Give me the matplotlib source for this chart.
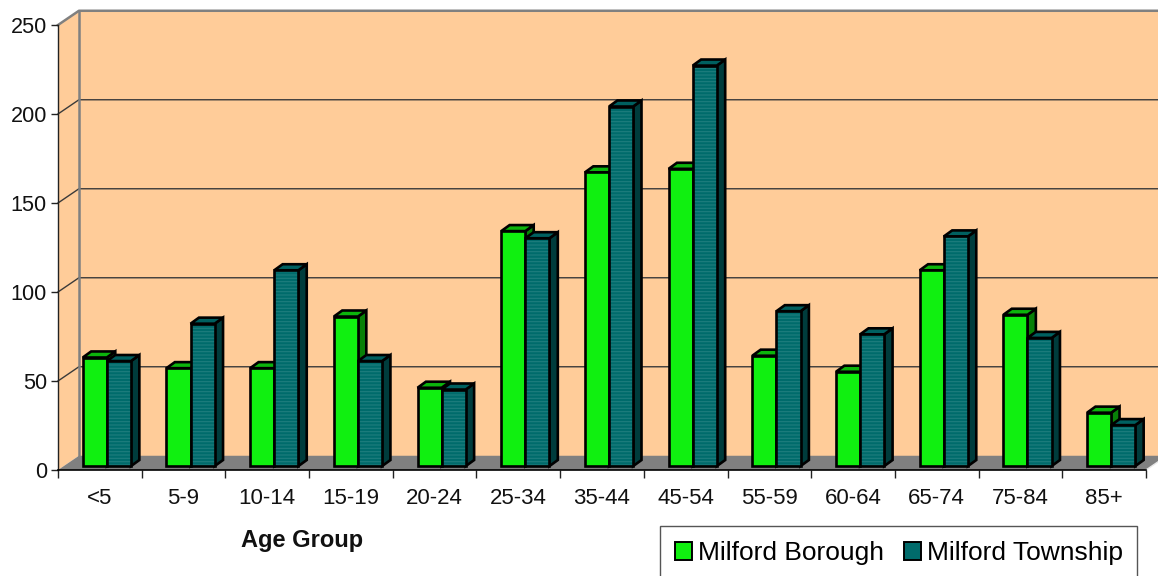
import matplotlib
matplotlib.use('Agg')
import matplotlib.pyplot as plt
from matplotlib.patches import Polygon, Patch
import numpy as np

plt.rcParams['font.family'] = ['Liberation Sans', 'DejaVu Sans']
plt.rcParams['hatch.linewidth'] = 0.8

ageGroups = ['<5', '5-9', '10-14', '15-19', '20-24', '25-34', '35-44', '45-54',
             '55-59', '60-64', '65-74', '75-84', '85+']
borough = [61, 55, 55, 84, 44, 132, 165, 167, 62, 53, 110, 85, 30]
township = [59, 80, 110, 59, 43, 128, 202, 225, 87, 74, 129, 72, 23]
yticks = [0, 50, 100, 150, 200, 250]

# depth of the fake 3d box, in data units
wallDx = 0.25
wallDy = 8.0
barDx = 0.1
barDy = 3.4
shiftX = 0.084
shiftY = 2.2
barWidth = 0.288
edgeWidth = 1.9

peach = '#FFCC99'
wallGrey = '#808080'
green = ('#10F010', '#0CB40C', '#088008')
teal = ('#006B6B', '#006060', '#003C3C')

def drawBar(ax, left, value, colors, hatched, z):
    base = shiftY
    top = base + value
    right = left + barWidth
    # side and top faces
    ax.add_patch(Polygon([(right, base), (right + barDx, base + barDy),
                          (right + barDx, top + barDy), (right, top)],
                         facecolor=colors[2], edgecolor='black', lw=edgeWidth, zorder=z, clip_on=False))
    ax.add_patch(Polygon([(left, top), (left + barDx, top + barDy),
                          (right + barDx, top + barDy), (right, top)],
                         facecolor=colors[1], edgecolor='black', lw=edgeWidth, zorder=z, clip_on=False))
    # front face
    if hatched:
        ax.bar(left, value, barWidth, bottom=base, align='edge', color=colors[0],
               edgecolor='#1F7D7D', hatch='-----', lw=0, zorder=z + 0.1, clip_on=False)
        ax.bar(left, value, barWidth, bottom=base, align='edge', fill=False,
               edgecolor='black', lw=edgeWidth, zorder=z + 0.2, clip_on=False)
    else:
        ax.bar(left, value, barWidth, bottom=base, align='edge', color=colors[0],
               edgecolor='black', lw=edgeWidth, zorder=z + 0.1, clip_on=False)

fig = plt.figure(figsize=(11.58, 5.76), dpi=100)
ax = fig.add_axes([58 / 1158, (576 - 470) / 576, 1088 / 1158, 445 / 576])
ax.set_xlim(0, 13)
ax.set_ylim(0, 250)

# walls and floor
ax.add_patch(Polygon([(wallDx, wallDy), (wallDx, 250 + wallDy), (13 + wallDx, 250 + wallDy), (13 + wallDx, wallDy)],
                     facecolor=peach, edgecolor='none', zorder=0, clip_on=False))
ax.add_patch(Polygon([(0, 0), (0, 250), (wallDx, 250 + wallDy), (wallDx, wallDy)],
                     facecolor=peach, edgecolor='none', zorder=0, clip_on=False))
ax.add_patch(Polygon([(0, 0), (13, 0), (13 + wallDx, wallDy), (wallDx, wallDy)],
                     facecolor=wallGrey, edgecolor='none', zorder=0.5, clip_on=False))

for v in yticks[1:-1]:
    ax.plot([0, wallDx, 13 + wallDx], [v, v + wallDy, v + wallDy], color='#3A3A3A', lw=1.0, zorder=1, clip_on=False)
ax.plot([0, wallDx, 13 + wallDx], [250, 250 + wallDy, 250 + wallDy], color=wallGrey, lw=1.8, zorder=1, clip_on=False)
ax.plot([wallDx, wallDx], [wallDy, 250 + wallDy], color=wallGrey, lw=1.8, zorder=1, clip_on=False)
ax.plot([13, 13 + wallDx], [0, wallDy], color='#E8E8E8', lw=1.0, zorder=1, clip_on=False)

for i in range(len(ageGroups)):
    z = 3 + i
    left = i + 0.5 + shiftX - barWidth
    drawBar(ax, left, borough[i], green, False, z)
    drawBar(ax, left + barWidth, township[i], teal, True, z + 0.5)

ax.spines['top'].set_visible(False)
ax.spines['right'].set_visible(False)
ax.spines['left'].set_color('#222222')
ax.spines['left'].set_linewidth(1.0)
ax.spines['bottom'].set_color('black')
ax.spines['bottom'].set_linewidth(1.2)
ax.spines['bottom'].set_zorder(30)
ax.patch.set_visible(False)

ax.set_yticks(yticks)
ax.set_xticks(np.arange(14))
ax.set_xticklabels([])
ax.set_xticks(np.arange(13) + 0.5, minor=True)
ax.set_xticklabels(ageGroups, minor=True)
ax.tick_params(axis='x', which='major', length=6, width=1.0, color='#222222')
ax.tick_params(axis='x', which='minor', length=0, pad=13, labelsize=16, labelcolor='#111111')
ax.tick_params(axis='y', length=5, width=1.0, color='#222222', pad=3, labelsize=15.6, labelcolor='#111111')

fig.text(302 / 1158, 1 - 540.5 / 576, 'Age Group', ha='center', va='center',
         fontsize=17, fontweight='bold', color='#111111')

handles = [Patch(facecolor=green[0], edgecolor='black', lw=1.4, label='Milford Borough'),
           Patch(facecolor=teal[0], edgecolor='black', lw=1.4, label='Milford Township')]
leg = fig.legend(handles=handles, ncol=2, loc='lower left', bbox_to_anchor=(660 / 1158, -0.006),
                 borderaxespad=0, frameon=True, fancybox=False, edgecolor='#555555', framealpha=1,
                 prop={'size': 19}, handlelength=0.68, handleheight=0.68, handletextpad=0.2,
                 columnspacing=0.75, borderpad=0.55)
leg.get_frame().set_linewidth(1.0)

fig.savefig('out.png', dpi=100)
